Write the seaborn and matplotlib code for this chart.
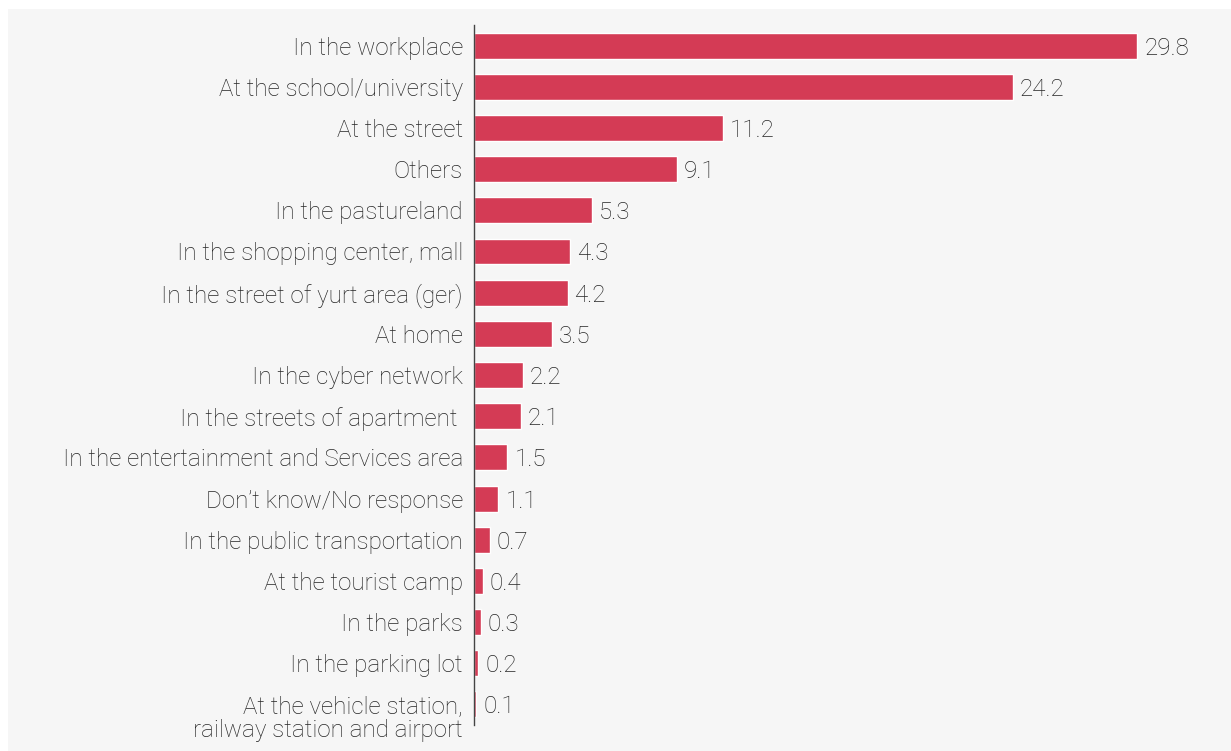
import numpy as np
import pandas as pd
import matplotlib.pyplot as plt
import matplotlib.transforms as mtransforms
import seaborn as sns
from matplotlib.patches import Rectangle

# ----------------- Data -----------------
places = [
    "In the workplace",
    "At the school/university",
    "At the street",
    "Others",
    "In the pastureland",
    "In the shopping center, mall",
    "In the street of yurt area (ger)",
    "At home",
    "In the cyber network",
    "In the streets of apartment ",
    "In the entertainment and Services area",
    "Don\u2019t know/No response",
    "In the public transportation",
    "At the tourist camp",
    "In the parks",
    "In the parking lot",
    "At the vehicle station,\nrailway station and airport",
]
shares = [29.8, 24.2, 11.2, 9.1, 5.3, 4.3, 4.2, 3.5, 2.2, 2.1, 1.5, 1.1, 0.7, 0.4, 0.3, 0.2, 0.1]

df = pd.DataFrame({"place": places, "share": shares})

sns.set_theme(style="white")
plt.rcParams["font.family"] = ["Roboto", "DejaVu Sans"]
plt.rcParams["font.weight"] = "light"

bar_color = "#d43b55"
text_color = "#262626"
bg_color = "#f6f6f6"
fsize = 17.4

fig = plt.figure(figsize=(12.31, 7.51), dpi=100)
fig.patch.set_facecolor("white")
fig.patches.append(Rectangle((8 / 1231, 0), 1, (751 - 9) / 751, transform=fig.transFigure,
                             facecolor=bg_color, edgecolor="none", zorder=-10))

ax = fig.add_axes([474 / 1231, 26 / 751, 1 - 474 / 1231, 700 / 751])
ax.set_facecolor("none")

sns.barplot(data=df, y="place", x="share", orient="h", color=bar_color,
            width=0.63, saturation=1, ax=ax)

for i, v in enumerate(shares):
    ax.annotate(f"{v}", xy=(v, i), xytext=(5, 0), textcoords="offset points",
                ha="left", va="center_baseline", fontsize=fsize, color=text_color,
                fontweight="light")

ax.set_xlim(0, 34)
ax.set_ylim(16.5, -0.5)
ax.set_xlabel("")
ax.set_ylabel("")
ax.set_xticks([])
ax.tick_params(axis="y", length=0, pad=8, labelsize=fsize, labelcolor=text_color)
for lab in ax.get_yticklabels():
    lab.set_fontweight("light")
    if "\n" in lab.get_text():
        # first line sits level with the bar, second line hangs below
        lab.set_linespacing(1.08)
        lab.set_transform(lab.get_transform() +
                          mtransforms.ScaledTranslation(0, -11 / 100, fig.dpi_scale_trans))

for side in ["top", "right", "bottom"]:
    ax.spines[side].set_visible(False)
ax.spines["left"].set_color("#444444")
ax.spines["left"].set_linewidth(1.0)

fig.savefig("out.png", dpi=100, facecolor=fig.get_facecolor())
